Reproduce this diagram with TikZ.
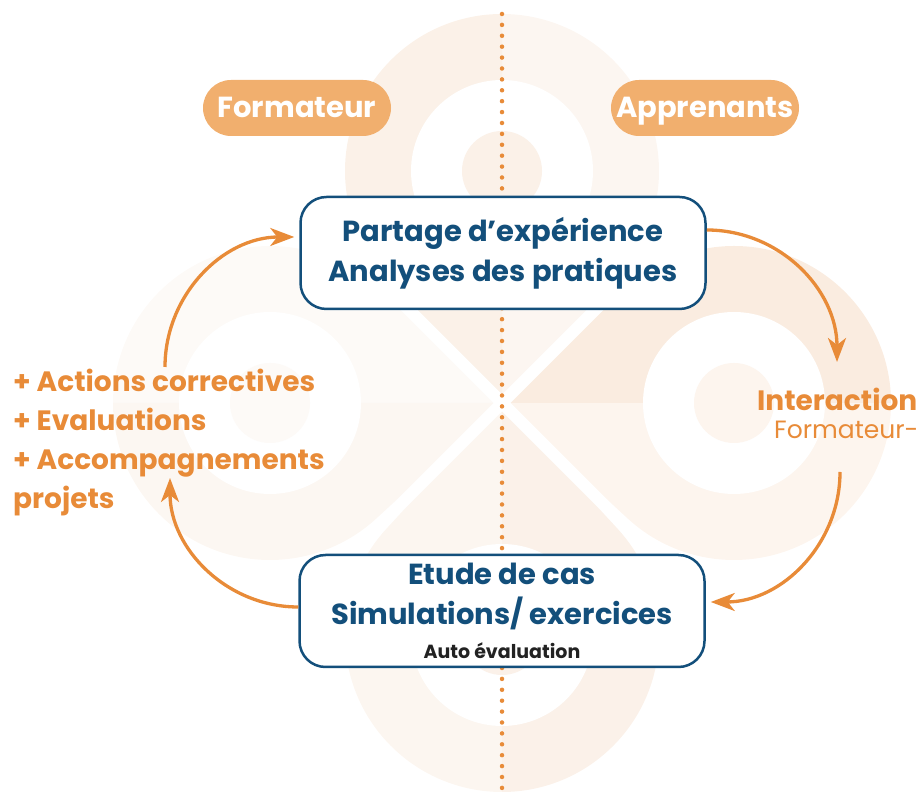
\documentclass[tikz,border=0pt]{standalone}
\usepackage{fontspec}
\setmainfont{Poppins}
\usetikzlibrary{positioning,calc,arrows.meta}

\definecolor{bleu}{HTML}{134F7B}
\definecolor{orangefonce}{HTML}{E88B38}
\definecolor{pastille}{HTML}{F1AF6E}
\definecolor{encre}{HTML}{222222}
% teintes du fond
\definecolor{hautG}{HTML}{FBF1E8}
\definecolor{hautD}{HTML}{FCF6F1}
\definecolor{droiteH}{HTML}{FAECE0}
\definecolor{droiteB}{HTML}{FDF5EE}
\definecolor{basG}{HTML}{FCF6F0}
\definecolor{basD}{HTML}{FBF1E9}
\definecolor{gaucheH}{HTML}{FDFAF7}
\definecolor{gaucheB}{HTML}{FCF7F2}

\begin{document}
\begin{tikzpicture}
            [
                x=1pt, y=1pt,
                boite/.style={draw=bleu, line width=2.5pt, fill=white, rounded corners=26pt,
                    minimum width=405pt, minimum height=112pt, align=center, text=bleu,
                    font=\fontsize{29}{40}\selectfont\bfseries},
                etiquette/.style={fill=pastille, rounded corners=28pt, minimum width=188pt,
                    minimum height=56pt, text height=20pt, text depth=0pt, text=white,
                    font=\fontsize{29}{34}\selectfont\bfseries},
                remarque/.style={inner sep=0pt, text=orangefonce, font=\fontsize{28}{39}\selectfont\bfseries},
                remarquefine/.style={inner sep=0pt, text=orangefonce, font=\fontsize{25}{28}\selectfont},
                fleche/.style={draw=orangefonce, line width=3.3pt, -{Stealth[length=24pt, width=18pt, inset=7pt]}},
                pointille/.style={draw=orangefonce, line width=4.5pt, line cap=round, dash pattern=on 0pt off 10.9pt},
            ]
            \path[use as bounding box, clip] (0,0) rectangle (920,794);
            % fond : les quatre lobes
            \fill[hautD] (502,391) -- ($(502,623)+(-42.6:157)$) arc[start angle=-42.6, end angle=90, radius=157pt] -- cycle;
            \fill[hautG] (502,391) -- (502,780) arc[start angle=90, end angle=222.6, radius=157pt] -- cycle;
            \fill[droiteB] (502,391) -- ($(734,391)+(-132.6:157)$) arc[start angle=-132.6, end angle=0, radius=157pt] -- cycle;
            \fill[droiteH] (502,391) -- (891,391) arc[start angle=0, end angle=132.6, radius=157pt] -- cycle;
            \fill[basG] (502,391) -- ($(502,159)+(137.4:157)$) arc[start angle=137.4, end angle=270, radius=157pt] -- cycle;
            \fill[basD] (502,391) -- (502,2) arc[start angle=270, end angle=402.6, radius=157pt] -- cycle;
            \fill[gaucheH] (502,391) -- ($(270,391)+(47.4:157)$) arc[start angle=47.4, end angle=180, radius=157pt] -- cycle;
            \fill[gaucheB] (502,391) -- (113,391) arc[start angle=180, end angle=312.6, radius=157pt] -- cycle;
            \draw[white, line width=12pt] (327,216) -- (677,566) (327,566) -- (677,216);
            \fill[white] (502,623) circle[radius=91pt] (734,391) circle[radius=91pt]
                (502,159) circle[radius=91pt] (270,391) circle[radius=91pt];
            \fill[hautG] (502,623) circle[radius=40pt];
            \fill[droiteB] (734,391) circle[radius=40pt];
            \fill[basD] (502,159) circle[radius=40pt];
            \fill[gaucheH] (270,391) circle[radius=40pt];
            % axe pointille
            \draw[pointille] (502,780) -- (502,0);
            % formateur / apprenants
            \node[etiquette] (formateur) at (297,686) {Formateur};
            \node[etiquette] (apprenants) at (705,686) {Apprenants};
            % etapes
            \node[boite] (partage) at (503,541) {Partage d’expérience\\Analyses des pratiques};
            \node[boite] (etude) at (502,183) {Etude de cas\\Simulations/ exercices\\[-6pt]{\fontsize{19}{22}\selectfont\color{encre}Auto évaluation}};
            % remarques
            \node[remarque, align=left, anchor=north west] (actions) at (13,425)
                {+ Actions correctives\\+ Evaluations\\+ Accompagnements\\projets};
            \node[remarque, anchor=base west] (interaction) at (757,383) {Interaction};
            \node[remarquefine, anchor=base west] (formateurB) at (774,355) {Formateur-};
            % boucle
            \coordinate (fin1) at (837,432);
            \coordinate (depart2) at (840,322);
            \coordinate (fin3) at (170,316);
            \coordinate (depart4) at (165,427);
            \draw[fleche] ([yshift=23pt]partage.east) to[out=0, in=90] (fin1);
            \draw[fleche] (depart2) to[out=-90, in=0] ([xshift=5pt, yshift=9pt]etude.east);
            \draw[fleche] ([yshift=4pt]etude.west) to[out=180, in=-90] (fin3);
            \draw[fleche] (depart4) to[out=90, in=180] ([xshift=-5pt, yshift=16pt]partage.west);
        \end{tikzpicture}
\end{document}
